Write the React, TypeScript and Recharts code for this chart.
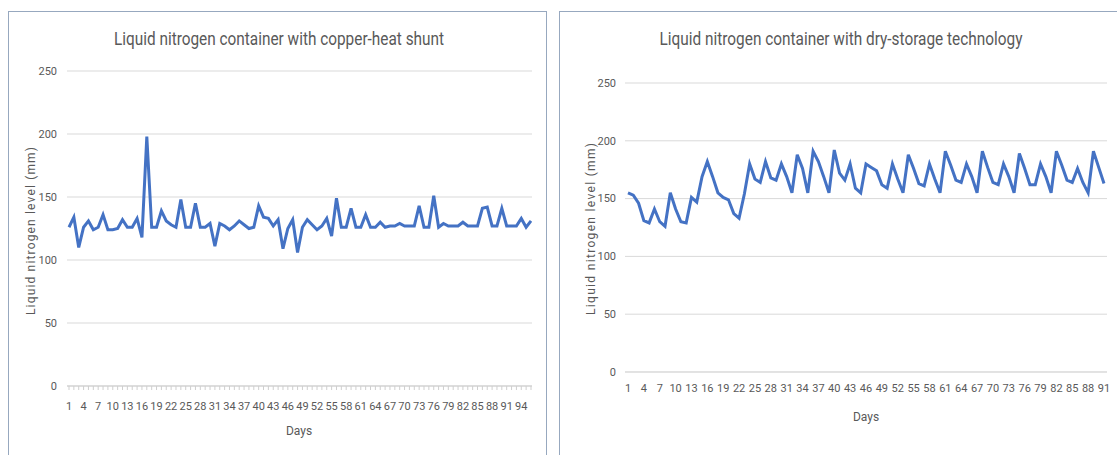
import React from 'react';
import { LineChart, Line, XAxis, YAxis, CartesianGrid } from 'recharts';

const shuntValues = [
  126, 134, 110, 126, 131, 124, 126, 136, 124, 124, 125, 132, 126, 126, 133, 118,
  198, 126, 126, 139, 131, 128, 126, 148, 126, 126, 145, 126, 126, 129, 111, 129,
  127, 124, 127, 131, 128, 125, 126, 143, 134, 133, 127, 132, 109, 125, 132, 106,
  126, 132, 128, 124, 127, 133, 119, 149, 126, 126, 141, 126, 126, 136, 126, 126,
  130, 126, 127, 127, 129, 127, 127, 127, 143, 126, 126, 151, 126, 129, 127, 127,
  127, 130, 127, 127, 127, 141, 142, 127, 127, 141, 127, 127, 127, 133, 126, 131,
];

const dryValues = [
  155, 153, 146, 131, 129, 141, 130, 126, 155, 141, 130, 129, 151, 147, 169, 182,
  169, 155, 151, 149, 137, 133, 154, 180, 167, 164, 182, 168, 166, 180, 169, 155,
  188, 176, 155, 191, 182, 169, 155, 192, 172, 166, 180, 159, 155, 180, 177, 174,
  162, 159, 180, 167, 155, 188, 176, 163, 161, 180, 167, 155, 191, 179, 166, 164,
  180, 169, 155, 191, 177, 164, 162, 180, 169, 155, 189, 176, 162, 162, 180, 169,
  155, 191, 179, 166, 164, 176, 164, 155, 191, 177, 163,
];

const yTicks = [0, 50, 100, 150, 200, 250];
const leftTitle = 'Liquid nitrogen container with copper-heat shunt';
const rightTitle = 'Liquid nitrogen container with dry-storage technology';
const yTitle = 'Liquid nitrogen level (mm)';
const xTitle = 'Days';

const shuntData = shuntValues.map((v, i) => ({ day: String(i + 1), level: v }));
const dryData = dryValues.map((v, i) => ({ day: String(i + 1), level: v }));

const TEXT = '#595959';
const FONT = "'Liberation Sans Narrow', Roboto, 'Noto Sans', sans-serif";
const BLUE = '#4472C4';
const GRID = '#d9d9d9';

const DayTick = (props: any) => {
  const { x, y, payload, index } = props;
  if (index % 3 !== 0) return null;
  return (
    <text x={x} y={y} dy="0.71em" textAnchor="middle" fill={TEXT} fontSize={11} fontFamily={FONT}>
      {payload.value}
    </text>
  );
};

const LevelTick = (props: any) => {
  const { x, y, payload } = props;
  return (
    <text x={x} y={y} dy="0.35em" textAnchor="end" fill={TEXT} fontSize={11} fontFamily={FONT}>
      {payload.value}
    </text>
  );
};

export default function App() {
  return (
    <div style={{ position: 'absolute', left: 0, top: 0, width: 1117, height: 455, overflow: 'hidden', background: '#fff' }}>
      <div style={{ position: 'absolute', left: 8, top: 11, width: 539, height: 470, border: '1px solid #97a8bf', boxSizing: 'border-box' }}>
        <LineChart width={537} height={444} data={shuntData} margin={{ top: 59, right: 14, left: 0, bottom: 50 }}>
          <CartesianGrid vertical={false} stroke={GRID} />
          <XAxis
            dataKey="day"
            interval={0}
            tick={<DayTick />}
            tickLine={{ stroke: '#cfcfcf' }}
            tickSize={4}
            tickMargin={12}
            axisLine={{ stroke: '#cfcfcf' }}
            height={20}
            padding={{ left: 2, right: 1 }}
          />
          <YAxis
            domain={[0, 250]}
            ticks={yTicks}
            width={58}
            axisLine={false}
            tickLine={false}
            tickSize={0}
            tickMargin={10}
            tick={<LevelTick />}
          />
          <Line type="linear" dataKey="level" stroke={BLUE} strokeWidth={3} dot={false} isAnimationActive={false} />
        </LineChart>
      </div>
      <div style={{ position: 'absolute', left: 559, top: 11, width: 580, height: 470, border: '1px solid #97a8bf', boxSizing: 'border-box' }}>
        <LineChart width={570} height={444} data={dryData} margin={{ top: 71, right: 23, left: 0, bottom: 64 }}>
          <CartesianGrid vertical={false} stroke={GRID} />
          <XAxis
            dataKey="day"
            interval={0}
            tick={<DayTick />}
            tickLine={false}
            tickSize={0}
            tickMargin={12}
            axisLine={{ stroke: GRID }}
            height={20}
            padding={{ left: 3, right: 3 }}
          />
          <YAxis
            domain={[0, 250]}
            ticks={yTicks}
            width={65}
            axisLine={false}
            tickLine={false}
            tickSize={0}
            tickMargin={9}
            tick={<LevelTick />}
          />
          <Line type="linear" dataKey="level" stroke={BLUE} strokeWidth={3} dot={false} isAnimationActive={false} />
        </LineChart>
      </div>
      <svg width={1117} height={455} style={{ position: 'absolute', left: 0, top: 0, pointerEvents: 'none' }}>
        <text x={279} y={45} textAnchor="middle" fill={TEXT} fontSize={19} fontFamily={FONT} textLength={330} lengthAdjust="spacingAndGlyphs">{leftTitle}</text>
        <text x={841} y={45} textAnchor="middle" fill={TEXT} fontSize={19} fontFamily={FONT} textLength={363} lengthAdjust="spacingAndGlyphs">{rightTitle}</text>
        <text transform="translate(35,231) rotate(-90)" textAnchor="middle" fill={TEXT} fontSize={12} fontFamily={FONT} textLength={168} lengthAdjust="spacing">{yTitle}</text>
        <text transform="translate(595,229) rotate(-90)" textAnchor="middle" fill={TEXT} fontSize={12} fontFamily={FONT} textLength={172} lengthAdjust="spacing">{yTitle}</text>
        <text x={299} y={435} textAnchor="middle" fill={TEXT} fontSize={12} fontFamily={FONT}>{xTitle}</text>
        <text x={866} y={421} textAnchor="middle" fill={TEXT} fontSize={12} fontFamily={FONT}>{xTitle}</text>
      </svg>
    </div>
  );
}
